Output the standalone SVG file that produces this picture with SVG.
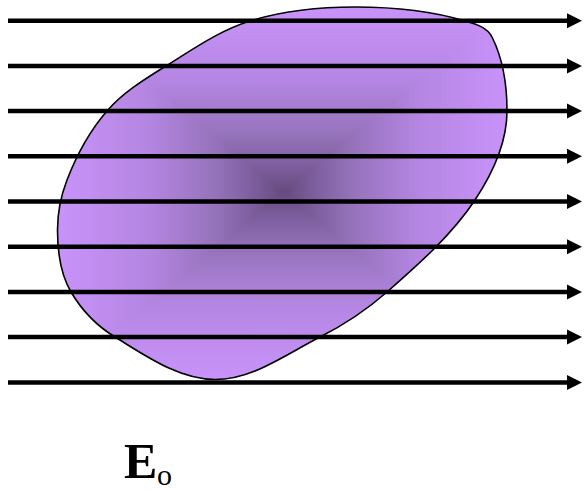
<svg xmlns="http://www.w3.org/2000/svg" width="585" height="492" viewBox="0 0 585 492">
  <style>
    .arrow { stroke: #000; stroke-width: 4.5; fill: none; marker-end: url(#head); }
    .tri { shape-rendering: crispEdges; }
    .outline { fill: none; stroke: #000; stroke-width: 1.6; }
    .lbl { font-family: "Liberation Serif", "Times New Roman", serif; fill: #000; }
  </style>
  <defs>
    <path id="blobPath" d="M355,7 C390,7 432,11 465,21 C475.5,24 487,27 492,37 C503,59 507,86 507,111 C507,143 492.6,173.4 475,200 C451.9,234.9 418.5,264.3 387,292 C366.75,309.8 344,324.85 320,337 C286.2,354.1 253,379.5 215,379.5 C179,379.5 145.6,355.7 115,337 C97.15,326.1 81.7,310.1 71,292 C60.3,273.9 57.5,251 57.5,230 C57.5,213 60.9,195.8 67,180 C76.7,154.9 89.2,131.5 107,111 C123.5,92 144.75,79.25 166,66 C193.2,49 219.4,30.5 250,21 C283.4,10.6 320,7 355,7 Z"/>
    <clipPath id="blobClip"><use href="#blobPath"/></clipPath>
    <linearGradient id="gTop" gradientUnits="userSpaceOnUse" x1="0" y1="7" x2="0" y2="192">
      <stop offset="0" stop-color="#C993FA"/><stop offset="0.4" stop-color="#B486E2"/><stop offset="0.7" stop-color="#9572BA"/><stop offset="0.88" stop-color="#7A5C9A"/><stop offset="1" stop-color="#654B7D"/>
    </linearGradient>
    <linearGradient id="gBot" gradientUnits="userSpaceOnUse" x1="0" y1="380" x2="0" y2="192">
      <stop offset="0" stop-color="#C993FA"/><stop offset="0.4" stop-color="#B486E2"/><stop offset="0.7" stop-color="#9572BA"/><stop offset="0.88" stop-color="#7A5C9A"/><stop offset="1" stop-color="#654B7D"/>
    </linearGradient>
    <linearGradient id="gLeft" gradientUnits="userSpaceOnUse" x1="57" y1="0" x2="284" y2="0">
      <stop offset="0" stop-color="#C993FA"/><stop offset="0.4" stop-color="#B486E2"/><stop offset="0.7" stop-color="#9572BA"/><stop offset="0.88" stop-color="#7A5C9A"/><stop offset="1" stop-color="#654B7D"/>
    </linearGradient>
    <linearGradient id="gRight" gradientUnits="userSpaceOnUse" x1="508" y1="0" x2="284" y2="0">
      <stop offset="0" stop-color="#C993FA"/><stop offset="0.4" stop-color="#B486E2"/><stop offset="0.7" stop-color="#9572BA"/><stop offset="0.88" stop-color="#7A5C9A"/><stop offset="1" stop-color="#654B7D"/>
    </linearGradient>
    <marker id="head" markerUnits="userSpaceOnUse" markerWidth="16" markerHeight="16" refX="0" refY="7.5" orient="auto" overflow="visible">
      <path d="M0,0 L15,7.5 L0,15 Z" fill="#000"/>
    </marker>
  </defs>

  <g id="blob">
    <g clip-path="url(#blobClip)">
      <polygon class="tri" points="57,7 508,7 284,192" fill="url(#gTop)"/>
      <polygon class="tri" points="57,380 508,380 284,192" fill="url(#gBot)"/>
      <polygon class="tri" points="57,7 57,380 284,192" fill="url(#gLeft)"/>
      <polygon class="tri" points="508,7 508,380 284,192" fill="url(#gRight)"/>
    </g>
    <use href="#blobPath" class="outline"/>
  </g>

  <g id="connectors">
    <line class="arrow" x1="8" y1="20.7" x2="567" y2="20.7"/>
    <line class="arrow" x1="8" y1="65.9" x2="567" y2="65.9"/>
    <line class="arrow" x1="8" y1="111.1" x2="567" y2="111.1"/>
    <line class="arrow" x1="8" y1="156.3" x2="567" y2="156.3"/>
    <line class="arrow" x1="8" y1="201.5" x2="567" y2="201.5"/>
    <line class="arrow" x1="8" y1="246.7" x2="567" y2="246.7"/>
    <line class="arrow" x1="8" y1="291.9" x2="567" y2="291.9"/>
    <line class="arrow" x1="8" y1="337.1" x2="567" y2="337.1"/>
    <line class="arrow" x1="8" y1="382.6" x2="567" y2="382.6"/>
  </g>

  <g id="label">
    <text class="lbl" x="124" y="478" font-size="50" font-weight="bold">E</text>
    <text class="lbl" x="157" y="485" font-size="30">o</text>
  </g>
</svg>
